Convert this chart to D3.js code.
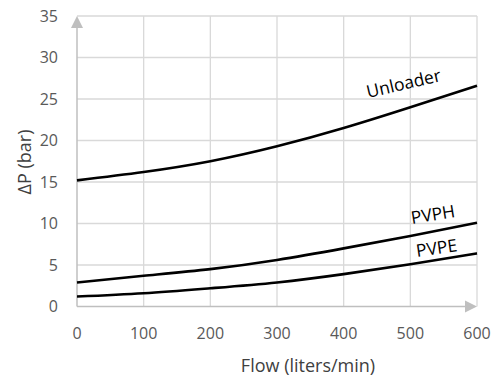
<!DOCTYPE html>
<html><head><meta charset="utf-8">
<script src="https://cdn.jsdelivr.net/npm/d3@7"></script>
<style>body{margin:0;background:#fff}svg{display:block}</style>
</head><body><svg id="c" width="495" height="382"></svg>
<script>
const flow = [0, 100, 200, 300, 400, 500, 600];
const unloader = [15.2, 16.2, 17.5, 19.3, 21.5, 24.0, 26.6];
const pvph = [2.9, 3.7, 4.5, 5.6, 7.0, 8.5, 10.1];
const pvpe = [1.2, 1.6, 2.2, 2.9, 3.9, 5.1, 6.4];
const xTicks = [0, 100, 200, 300, 400, 500, 600];
const yTicks = [0, 5, 10, 15, 20, 25, 30, 35];
const seriesNames = ["Unloader", "PVPH", "PVPE"];

const svg = d3.select("#c");
const x = d3.scaleLinear().domain([0, 600]).range([77, 477]);
const y = d3.scaleLinear().domain([0, 35]).range([306.5, 16]);
const font = "'Open Sans', sans-serif";

// grid
svg.append("g").selectAll("line").data(yTicks.filter(d => d > 0)).join("line")
  .attr("x1", x(0)).attr("x2", x(600)).attr("y1", d => y(d)).attr("y2", d => y(d))
  .attr("stroke", "#d9d9d9").attr("stroke-width", 1.3);
svg.append("g").selectAll("line").data(xTicks.filter(d => d > 0)).join("line")
  .attr("y1", y(0)).attr("y2", y(35)).attr("x1", d => x(d)).attr("x2", d => x(d))
  .attr("stroke", "#d9d9d9").attr("stroke-width", 1.3);

// axes lines with arrows
svg.append("line").attr("x1", x(0)).attr("x2", x(600) - 8).attr("y1", y(0)).attr("y2", y(0))
  .attr("stroke", "#bfbfbf").attr("stroke-width", 1.5);
svg.append("line").attr("x1", x(0)).attr("x2", x(0)).attr("y1", y(0)).attr("y2", y(35) + 8)
  .attr("stroke", "#bfbfbf").attr("stroke-width", 1.5);
svg.append("path")
  .attr("d", `M${x(600)},${y(0)} L${x(600) - 12},${y(0) - 6} L${x(600) - 12},${y(0) + 6} Z`)
  .attr("fill", "#bfbfbf");
svg.append("path")
  .attr("d", `M${x(0)},${y(35)} L${x(0) - 6},${y(35) + 12} L${x(0) + 6},${y(35) + 12} Z`)
  .attr("fill", "#bfbfbf");

// tick labels
svg.append("g").selectAll("text").data(yTicks).join("text")
  .attr("x", 58).attr("y", d => y(d)).attr("dy", "0.35em").attr("text-anchor", "end")
  .attr("font-family", font).attr("font-size", 16).attr("fill", "#595959").text(d => d);
svg.append("g").selectAll("text").data(xTicks).join("text")
  .attr("x", d => x(d)).attr("y", 339).attr("text-anchor", "middle")
  .attr("font-family", font).attr("font-size", 16).attr("fill", "#595959").text(d => d);

// titles
svg.append("text").attr("x", 308).attr("y", 372).attr("text-anchor", "middle")
  .attr("font-family", font).attr("font-size", 18).attr("fill", "#404040").text("Flow (liters/min)");
svg.append("text").attr("transform", "translate(31,162) rotate(-90)").attr("text-anchor", "middle")
  .attr("font-family", font).attr("font-size", 18).attr("fill", "#404040").text("ΔP (bar)");

// curves
const line = d3.line().x((d, i) => x(flow[i])).y(d => y(d)).curve(d3.curveNatural);
[unloader, pvph, pvpe].forEach(s => {
  svg.append("path").attr("d", line(s)).attr("fill", "none")
    .attr("stroke", "#000").attr("stroke-width", 2.6);
});

// curve labels
const labels = [
  {name: seriesNames[0], px: 368, py: 98, rot: -13},
  {name: seriesNames[1], px: 412, py: 224, rot: -9},
  {name: seriesNames[2], px: 417, py: 257, rot: -8}
];
labels.forEach(l => {
  svg.append("text").attr("transform", `translate(${l.px},${l.py}) rotate(${l.rot})`)
    .attr("font-family", font).attr("font-size", 17.5).attr("fill", "#000").text(l.name);
});
</script></body></html>
